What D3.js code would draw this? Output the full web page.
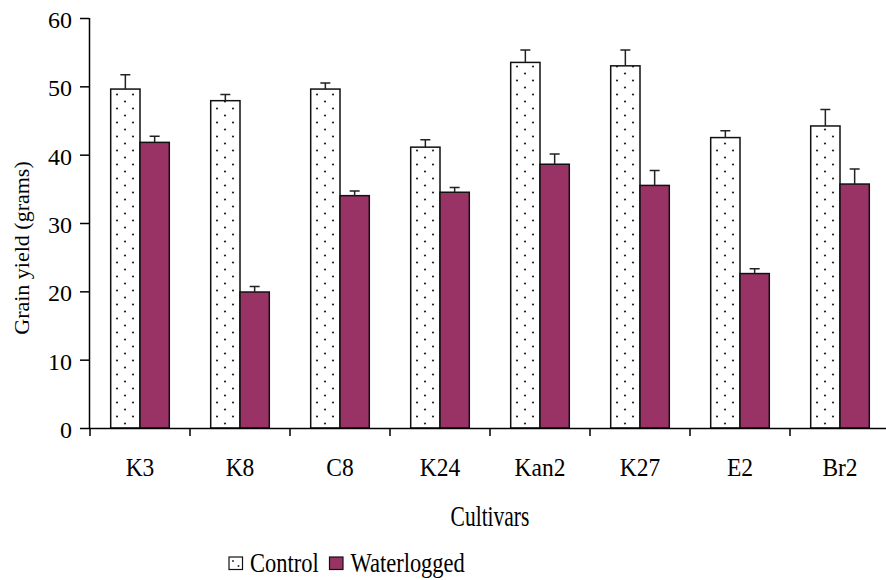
<!DOCTYPE html>
<html lang="en">
<head>
    <meta charset="UTF-8">
    <title>Grain yield by cultivar</title>
    <style>
        body { margin: 0; background: #fff; }
        text { font-family: "Liberation Serif", "Times New Roman", serif; fill: #000; }
    </style>
    <script src="https://cdnjs.cloudflare.com/ajax/libs/d3/7.8.5/d3.min.js"></script>
</head>
<body>
<script>
// data
const cultivars = ["K3", "K8", "C8", "K24", "Kan2", "K27", "E2", "Br2"];
const seriesNames = ["Control", "Waterlogged"];
const controlMean = [49.6, 47.9, 49.6, 41.1, 53.5, 53.0, 42.5, 44.2];
const controlErr = [2.1, 0.9, 0.9, 1.1, 1.8, 2.3, 1.0, 2.4];
const waterMean = [41.8, 19.9, 34.0, 34.5, 38.6, 35.5, 22.6, 35.7];
const waterErr = [0.9, 0.8, 0.7, 0.7, 1.5, 2.2, 0.7, 2.2];
const yTicks = [0, 10, 20, 30, 40, 50, 60];

const W = 886, H = 580;

var svg = d3.select("body").append("svg")
    .attr("width", W)
    .attr("height", H);

// the original text looks a bit taller than normal Times, stretch it vertically
function stretchText(sel, k, baseline) {
    sel.attr("transform", "scale(1," + k + ")")
        .attr("dy", 0)
        .attr("y", baseline / k);
}

// dotted fill for the control bars
var defs = svg.append("defs");
var pat = defs.append("pattern")
    .attr("id", "dots")
    .attr("patternUnits", "userSpaceOnUse")
    .attr("width", 16)
    .attr("height", 14);
pat.append("rect").attr("width", 16).attr("height", 14).attr("fill", "#fff");
pat.append("circle").attr("cx", 3).attr("cy", 3.5).attr("r", 1.1).attr("fill", "#222");
pat.append("circle").attr("cx", 11).attr("cy", 10.5).attr("r", 1.1).attr("fill", "#222");

const fills = {Control: "url(#dots)", Waterlogged: "#993366"};

// build rows for drawing
var rows = cultivars.map((c, i) => ({
    name: c,
    values: [
        {series: "Control", mean: controlMean[i], err: controlErr[i]},
        {series: "Waterlogged", mean: waterMean[i], err: waterErr[i]}
    ]
}));

var x = d3.scaleBand()
    .domain(cultivars)
    .range([90, 890])
    .paddingInner(0)
    .paddingOuter(0);

var xs = d3.scaleBand()
    .domain(seriesNames)
    .range([20.7, 79.3]);

var y = d3.scaleLinear()
    .domain([0, 60])
    .range([428, 18]);

// y axis
var yAxis = svg.append("g")
    .attr("transform", "translate(89,0)")
    .call(d3.axisLeft(y).tickValues(yTicks).tickSize(9).tickPadding(8).tickFormat(d3.format("d")));
yAxis.select(".domain").attr("stroke", "#000").attr("stroke-width", 1.5).attr("d", "M0.5," + y(60) + "V" + y(0));
yAxis.selectAll(".tick line").attr("stroke", "#000").attr("stroke-width", 1.5);
yAxis.selectAll(".tick text")
    .attr("dy", "0.4em")
    .style("font-family", "Liberation Serif")
    .style("font-size", "24px")
    .attr("fill", "#000");

// bars
var groups = svg.selectAll(".grp")
    .data(rows)
    .enter()
    .append("g")
    .attr("class", "grp")
    .attr("transform", d => "translate(" + x(d.name) + ",0)");

groups.selectAll("rect")
    .data(d => d.values)
    .enter()
    .append("rect")
    .attr("x", d => xs(d.series))
    .attr("y", d => y(d.mean))
    .attr("width", xs.bandwidth())
    .attr("height", d => y(0) - y(d.mean))
    .attr("fill", d => fills[d.series])
    .attr("stroke", "#111")
    .attr("stroke-width", 1.5);

// error bars (upper only)
groups.selectAll(".err")
    .data(d => d.values)
    .enter()
    .append("path")
    .attr("class", "err")
    .attr("fill", "none")
    .attr("stroke", "#222")
    .attr("stroke-width", 1.5)
    .attr("d", function (d) {
        var cx = xs(d.series) + xs.bandwidth() / 2;
        var top = y(d.mean + d.err);
        return "M" + cx + "," + y(d.mean) + "V" + top + "M" + (cx - 5) + "," + top + "H" + (cx + 5);
    });

// x axis
var xAxis = svg.append("g")
    .attr("transform", "translate(0,428)")
    .call(d3.axisBottom(x).tickSize(0));
xAxis.select(".domain").attr("stroke", "#000").attr("stroke-width", 1.5).attr("d", "M89,0.5H" + W);
xAxis.selectAll(".tick text")
    .style("font-family", "Liberation Serif")
    .style("font-size", "23.5px")
    .attr("fill", "#000")
    .call(stretchText, 1.1, 48);

// boundary ticks between categories
xAxis.selectAll(".bnd")
    .data(cultivars)
    .enter()
    .append("line")
    .attr("class", "bnd")
    .attr("x1", d => x(d)).attr("x2", d => x(d))
    .attr("y1", 0).attr("y2", 8)
    .attr("stroke", "#000")
    .attr("stroke-width", 1.5);

// axis titles
svg.append("text")
    .attr("x", 490)
    .attr("text-anchor", "middle")
    .style("font-size", "21.5px")
    .text("Cultivars")
    .call(stretchText, 1.35, 526);

svg.append("text")
    .attr("transform", "translate(29,248) rotate(-90)")
    .attr("text-anchor", "middle")
    .style("font-size", "22px")
    .text("Grain yield (grams)");

// legend
var legend = svg.append("g").attr("transform", "translate(229,557)");
var legX = [0, 100.5];
var items = legend.selectAll(".leg")
    .data(seriesNames)
    .enter()
    .append("g")
    .attr("class", "leg")
    .attr("transform", (d, i) => "translate(" + legX[i] + ",0)");
items.append("rect")
    .attr("width", 13.5)
    .attr("height", 12.5)
    .attr("fill", d => d === "Control" ? "#fff" : fills[d])
    .attr("stroke", "#111")
    .attr("stroke-width", 1.2);
items.filter(d => d === "Control").append("circle")
    .attr("cx", 4).attr("cy", 4).attr("r", 1).attr("fill", "#333");
items.filter(d => d === "Control").append("circle")
    .attr("cx", 9.5).attr("cy", 9).attr("r", 1).attr("fill", "#333");
items.append("text")
    .attr("x", 21)
    .style("font-size", "22.5px")
    .text(d => d)
    .call(stretchText, 1.2, 14.5);
</script>
</body>
</html>
